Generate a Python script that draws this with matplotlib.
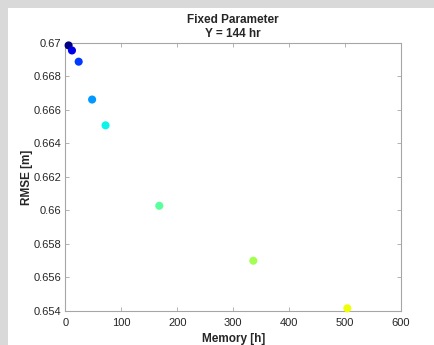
import numpy as np
import matplotlib.pyplot as plt
from matplotlib.patches import Rectangle
from matplotlib.ticker import FuncFormatter

plt.rcParams['font.family'] = ['Liberation Sans', 'DejaVu Sans']

memory_h = [6, 12, 24, 48, 72, 168, 336, 504]
rmse_m = [0.66985, 0.66955, 0.66888, 0.66662, 0.66508, 0.66028, 0.65700, 0.65416]
x_ticks = [0, 100, 200, 300, 400, 500, 600]
y_ticks = [0.654, 0.656, 0.658, 0.660, 0.662, 0.664, 0.666, 0.668, 0.670]

TEXT = '#262626'
EDGE = '#a6a6a6'

fig = plt.figure(figsize=(4.35, 3.45), dpi=100)
fig.patch.set_facecolor('#d9d9d9')
# white panel, gray strip on left and top
fig.patches.append(Rectangle((8 / 435, 0), 1, 1 - 8 / 345, transform=fig.transFigure,
                             facecolor='white', edgecolor='none', zorder=-10))

ax = fig.add_axes([0.150, 0.0986, 0.772, 0.777])
ax.set_zorder(5)
idx = np.arange(len(memory_h))
ax.scatter(memory_h, rmse_m, c=idx, cmap='jet', vmin=0, vmax=(len(idx) - 1) / 0.64,
           s=34, edgecolors='none', zorder=3, clip_on=False)

ax.set_xlim(0, 600)
ax.set_ylim(0.654, 0.670)
ax.set_xticks(x_ticks)
ax.set_yticks(y_ticks)
ax.yaxis.set_major_formatter(FuncFormatter(lambda v, p: f"{round(v, 3):g}"))
ax.tick_params(direction='in', top=True, right=True, length=3, width=0.6,
               color=EDGE, labelcolor=TEXT, labelsize=8, pad=3)
ax.tick_params(axis='x', pad=5)
for sp in ax.spines.values():
    sp.set_color(EDGE)
    sp.set_linewidth(0.8)

ax.set_title("Fixed Parameter\nY = 144 hr", fontsize=8.5, fontweight='bold',
             color=TEXT, pad=4, linespacing=1.3)
ax.set_xlabel("Memory [h]", fontsize=8.5, fontweight='bold', color=TEXT, labelpad=4)
ax.set_ylabel("RMSE [m]", fontsize=8.5, fontweight='bold', color=TEXT, labelpad=0)

fig.savefig("out.png", dpi=100, facecolor=fig.get_facecolor())
